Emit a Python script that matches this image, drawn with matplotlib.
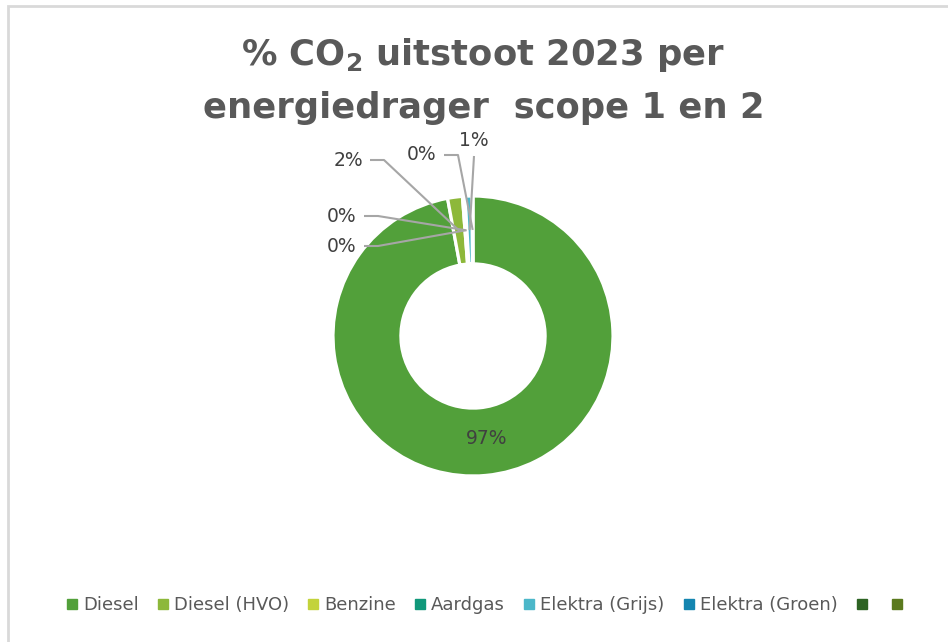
import matplotlib
matplotlib.use("Agg")
import matplotlib.pyplot as plt
import numpy as np
from matplotlib.lines import Line2D
from matplotlib.patches import Rectangle

# data (share of CO2 emissions, %)
categories = ["Diesel", "Diesel (HVO)", "Benzine", "Aardgas",
              "Elektra (Grijs)", "Elektra (Groen)", "", ""]
values = [96.8, 1.7, 0.2, 0.1, 0.8, 0.1, 0.0, 0.0]
colors = ["#52A03A", "#8DB83A", "#C3D33B", "#10987A",
          "#4CB7C9", "#1485B0", "#2D6323", "#5B7A1E"]

# label placement in pixels (text centre) for the small slices
label_px = {1: (348, 160), 2: (342, 216), 3: (342, 246), 4: (474, 141), 5: (422, 155)}

W, H = 948, 642
CX, CY, R = 473, 336, 140

fig = plt.figure(figsize=(W / 100, H / 100), dpi=100)
ax = fig.add_axes([0, 0, 1, 1])


def px(x, y):
    return (x - CX) / R, (CY - y) / R


wedges, _ = ax.pie(values[:6], colors=colors[:6], startangle=90, counterclock=False,
                   radius=1, wedgeprops=dict(width=0.485, edgecolor="white", linewidth=2.3))
ax.set_xlim(-CX / R, (W - CX) / R)
ax.set_ylim(-(H - CY) / R, CY / R)
ax.set_aspect("auto")
ax.axis("off")

total = sum(values[:6])
text_col = "#404040"
mid_r = 1 - 0.485 / 2
for i, w in enumerate(wedges):
    pct = f"{round(values[i] / total * 100):.0f}%"
    ang = np.deg2rad((w.theta1 + w.theta2) / 2)
    tx, ty = mid_r * np.cos(ang), mid_r * np.sin(ang)
    if i == 0:
        ax.text(tx + 0.03, ty + 0.02, pct, ha="center", va="center", fontsize=13.5, color=text_col)
        continue
    lx, ly = label_px[i]
    ax.text(*px(lx, ly), pct, ha="center", va="center", fontsize=13.5, color=text_col)
    if i == 4:
        pts = [px(lx, ly + 15), (tx, ty)]
    else:
        pts = [px(lx + 22, ly), px(lx + 36, ly), (tx, ty)]
    xs, ys = zip(*pts)
    ax.plot(xs, ys, color="#A6A6A6", lw=1.5, solid_capstyle="butt")

# title
fig.text(0.51, 1 - 55 / H, "% CO$_\\mathbf{2}$ uitstoot 2023 per", ha="center", va="center",
         fontsize=25.5, fontweight="bold", color="#595959")
fig.text(0.51, 1 - 108 / H, "energiedrager  scope 1 en 2", ha="center", va="center",
         fontsize=25.5, fontweight="bold", color="#595959")

# legend
handles = [Line2D([], [], marker="s", linestyle="none", markersize=7,
                  markerfacecolor=c, markeredgecolor=c) for c in colors]
fig.legend(handles, categories, loc="center", bbox_to_anchor=(0.512, 1 - 605 / H),
           ncol=8, frameon=False, fontsize=13, handletextpad=0.1, columnspacing=0.85,
           handlelength=1.0, labelcolor="#595959")

# chart border
fig.add_artist(Rectangle((8 / W, -0.05), 1.2, 1 - 6 / H + 0.05, transform=fig.transFigure,
                         fill=False, edgecolor="#D9D9D9", lw=2))

fig.savefig("out.png", dpi=100)
